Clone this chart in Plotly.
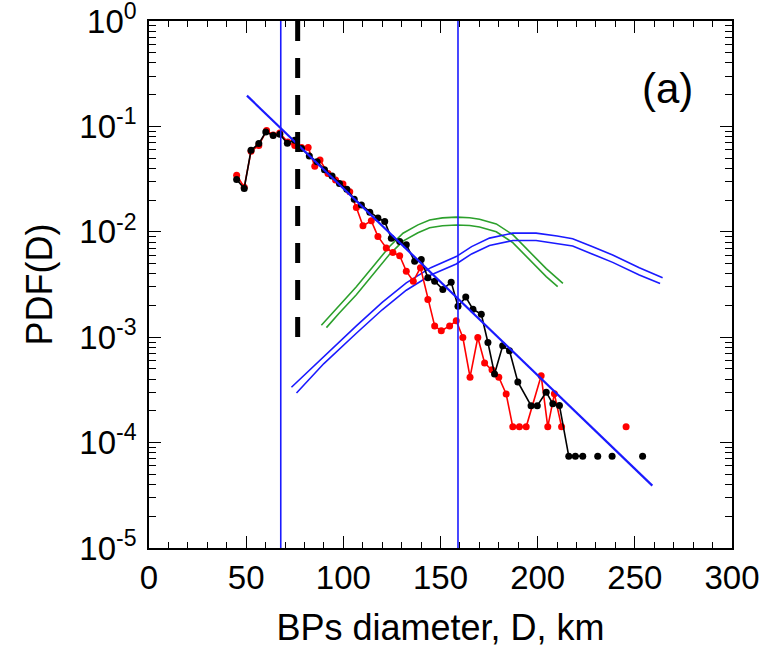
import plotly.graph_objects as go

# ---------------- data ----------------
black_d = [45.1, 49.0, 52.5, 56.5, 60.1, 63.9, 67.3, 71.2, 75.0, 78.5, 82.5, 86.5, 90.3, 94.2,
           98.0, 101.8, 105.6, 109.3, 113.6, 117.8, 121.3, 124.7, 129.0, 132.4, 136.7, 140.1,
           143.5, 147.0, 151.2, 155.5, 159.0, 163.0, 166.7, 171.0, 174.4, 177.8, 182.0, 185.5,
           189.8, 196.6, 199.8, 204.4, 207.8, 211.2, 216.0, 219.4, 223.2, 227.0, 230.9, 234.6,
           238.3, 246.0, 254.0]
black_pdf = [0.0314, 0.0258, 0.0594, 0.0687, 0.0885, 0.0822, 0.0841, 0.0692, 0.0741, 0.0617,
             0.0525, 0.0462, 0.0389, 0.0339, 0.0288, 0.0254, 0.0204, 0.0180, 0.0153, 0.0135,
             0.0125, 0.00871, 0.00811, 0.00753, 0.00525, 0.00545, 0.00366, 0.00340, 0.00284,
             0.00333, 0.00197, 0.00240, 0.00184, 0.00165, 0.000891, 0.000448, 0.000828,
             0.000743, 0.000376, 0.000224, 0.000224, 0.000301, 0.000233, 0.000225,
             7.43e-5, 7.43e-5, 7.43e-5, None, 7.43e-5, None, 7.43e-5, None, 7.43e-5]

red_d = [45.1, 49.0, 52.5, 56.5, 60.5, 63.9, 67.3, 71.4, 75.0, 78.5, 81.9, 85.3, 88.0, 92.1,
         96.0, 99.8, 103.3, 106.7, 110.1, 114.4, 117.8, 122.1, 125.5, 129.0, 132.4, 136.0,
         139.7, 143.5, 147.0, 150.4, 154.7, 158.1, 161.5, 165.2, 169.2, 172.7, 176.5, 180.0,
         183.8, 187.2, 190.6, 194.1, 201.8, 205.2, 208.6, 212.3, 230.0, 245.5]
red_pdf = [0.0345, 0.0265, 0.058, 0.066, 0.0916, 0.083, 0.0865, 0.071, 0.066, 0.063, 0.063,
           0.0418, 0.0479, 0.0358, 0.031, 0.0285, 0.0240, 0.0170, 0.0114, 0.0127, 0.00904,
           0.00702, 0.00637, 0.00592, 0.00423, 0.0034, 0.00457, 0.00228, 0.00128, 0.00115,
           0.00128, 0.00143, 0.000993, 0.000417, 0.000993, 0.000570, 0.00049, 0.000417,
           0.000289, 0.000141, 0.000141, 0.000141, 0.000431, 0.000141, 0.000290, 0.000141,
           None, 0.000141]

green_d_upper = [88.7, 97.7, 106.7, 115.0, 123.8, 130.7, 138.4, 144.4, 151.0, 158.1, 165.0,
                 170.1, 178.7, 187.2, 195.8, 204.4, 213.0]
green_upper = [0.001297, 0.001995, 0.003006, 0.004613, 0.007261, 0.009705, 0.01164, 0.01297,
               0.01355, 0.01377, 0.01361, 0.01318, 0.01189, 0.00938, 0.00646, 0.00447, 0.00324]
green_d_lower = [91.3, 97.7, 106.7, 115.0, 123.8, 130.7, 138.4, 144.4, 151.0, 158.1, 165.0,
                 170.1, 178.7, 187.2, 195.8, 204.4, 210.3]
green_lower = [0.001233, 0.00168, 0.00253, 0.00388, 0.00611, 0.00817, 0.00979, 0.01091,
               0.0114, 0.01159, 0.01146, 0.01109, 0.0100, 0.00789, 0.00543, 0.00376, 0.00302]

blue_d_upper = [73.3, 90.0, 106.7, 120.0, 132.4, 145.0, 158.1, 166.0, 175.2, 187.2, 199.2,
                210.0, 218.0, 228.0, 238.6, 252.3, 264.3]
blue_upper = [0.000335, 0.000661, 0.00128, 0.00214, 0.00328, 0.00457, 0.00582, 0.00724,
              0.00871, 0.00971, 0.00971, 0.00912, 0.00861, 0.00724, 0.00603, 0.00457, 0.00366]
blue_d_lower = [75.9, 90.0, 106.7, 120.0, 132.4, 145.0, 158.1, 166.0, 175.2, 187.2, 199.2,
                210.0, 218.0, 228.0, 238.6, 252.3, 263.0]
blue_lower = [0.000295, 0.000562, 0.00109, 0.00182, 0.00279, 0.00389, 0.00495, 0.00617,
              0.00741, 0.00826, 0.00826, 0.00776, 0.00733, 0.00617, 0.00513, 0.00389, 0.00324]

fit_d = [50.4, 259.0]
fit_pdf = [0.196, 3.9e-5]

vlines_d = [67.8, 159.0]
dashed_d = 76.5
dashed_range = [1.0, 9.5e-4]

x_ticks = [0, 50, 100, 150, 200, 250, 300]
y_tickvals = [1, 1e-1, 1e-2, 1e-3, 1e-4, 1e-5]
y_ticktext = ["10<sup>0</sup>", "10<sup>-1</sup>", "10<sup>-2</sup>", "10<sup>-3</sup>",
              "10<sup>-4</sup>", "10<sup>-5</sup>"]
panel_label = "(a)"

# ---------------- figure ----------------
FONT = "Liberation Sans, Arial, Helvetica, sans-serif"
fig = go.Figure()

for xs, ys, col in [(green_d_upper, green_upper, "#2ca02c"), (green_d_lower, green_lower, "#2ca02c"),
                    (blue_d_upper, blue_upper, "#1a1aff"), (blue_d_lower, blue_lower, "#1a1aff")]:
    fig.add_trace(go.Scatter(x=xs, y=ys, mode="lines", line=dict(color=col, width=1.6),
                             showlegend=False, hoverinfo="skip"))

fig.add_trace(go.Scatter(x=red_d, y=red_pdf, mode="lines+markers", connectgaps=False,
                         line=dict(color="#ff0000", width=1.6),
                         marker=dict(color="#ff0000", size=7), showlegend=False))
fig.add_trace(go.Scatter(x=black_d, y=black_pdf, mode="lines+markers", connectgaps=False,
                         line=dict(color="black", width=1.6),
                         marker=dict(color="black", size=7), showlegend=False))
fig.add_trace(go.Scatter(x=fit_d, y=fit_pdf, mode="lines", line=dict(color="#1a1aff", width=2.2),
                         showlegend=False))
for xv in vlines_d:
    fig.add_trace(go.Scatter(x=[xv, xv], y=[1.0, 1e-5], mode="lines",
                             line=dict(color="#1a1aff", width=1.6), showlegend=False))
fig.add_trace(go.Scatter(x=[dashed_d, dashed_d], y=dashed_range, mode="lines",
                         line=dict(color="black", width=5, dash="20px,17px"), showlegend=False))

fig.add_annotation(x=0.889, y=0.871, xref="paper", yref="paper", text=panel_label,
                   xanchor="center", yanchor="middle",
                   showarrow=False, font=dict(size=42, color="black", family=FONT))

axis_common = dict(showline=True, linecolor="black", linewidth=1.6, mirror="allticks",
                   ticks="inside", tickcolor="black", tickwidth=1.3, showgrid=False,
                   zeroline=False, automargin=False, ticklabeloverflow="allow",
                   tickfont=dict(size=33, color="black", family=FONT))

fig.update_xaxes(range=[0, 300], tickmode="array", tickvals=x_ticks, ticklen=12,
                 minor=dict(ticks="inside", dtick=10, ticklen=6, tickcolor="black", tickwidth=1.3),
                 title=dict(text="BPs diameter, D, km", font=dict(size=36, color="black", family=FONT),
                            standoff=19),
                 **axis_common)
fig.update_yaxes(type="log", range=[-5.0005, 0.0005], tickmode="array", tickvals=y_tickvals,
                 ticktext=y_ticktext, ticklen=12, ticklabelstandoff=4,
                 minor=dict(ticks="inside", ticklen=7, tickcolor="black", tickwidth=1.3,
                            tickmode="array",
                            tickvals=[m * 10 ** e for e in range(-5, 0) for m in range(2, 10)]),
                 title=dict(text="PDF(D)", font=dict(size=36, color="black", family=FONT),
                            standoff=16),
                 **axis_common)

fig.update_layout(width=766, height=656, plot_bgcolor="white", paper_bgcolor="white",
                  margin=dict(l=149, r=34, t=21, b=108, pad=0),
                  font=dict(family=FONT, color="black"))

fig.write_html("out.html", config={"displayModeBar": False},
               post_script="document.body.style.margin='0px';")
